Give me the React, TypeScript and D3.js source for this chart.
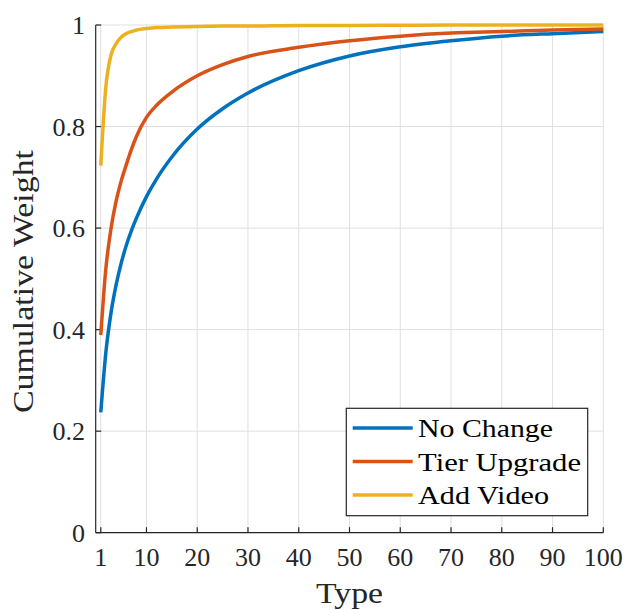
import React from "react";
import * as d3 from "d3";

const types = [1, 2, 3, 4, 5, 6, 7, 8, 10, 12, 15, 20, 25, 30, 40, 50, 60, 70, 80, 90, 100];
const noChange = [0.237, 0.355, 0.432, 0.487, 0.53, 0.565, 0.594, 0.619, 0.662, 0.697, 0.74, 0.795, 0.835, 0.866, 0.910, 0.939, 0.957, 0.969, 0.978, 0.983, 0.987];
const tierUpgrade = [0.389, 0.52, 0.598, 0.652, 0.692, 0.724, 0.754, 0.78, 0.818, 0.842, 0.868, 0.90, 0.922, 0.938, 0.956, 0.969, 0.978, 0.984, 0.987, 0.990, 0.992];
const addVideo = [0.723, 0.878, 0.94, 0.963, 0.976, 0.983, 0.987, 0.99, 0.993, 0.995, 0.996, 0.997, 0.998, 0.998, 0.999, 0.999, 0.9995, 1, 1, 1, 1];

const seriesNames = ["No Change", "Tier Upgrade", "Add Video"];
const seriesColors = ["#0072BD", "#D95319", "#EDB120"];
const xTicks = [1, 10, 20, 30, 40, 50, 60, 70, 80, 90, 100];
const yTicks = [0, 0.2, 0.4, 0.6, 0.8, 1];
const legendWidths = [135, 163, 131];

const W = 627, H = 610;
const L = 95.7, R = 603.3, T = 25, B = 532.7;
const FONT = "'Times New Roman', 'Liberation Serif', Times, serif";
const AX = "#262626";

export default function App() {
  const x = d3.scaleLinear().domain([0, 100]).range([L, R]);
  const y = d3.scaleLinear().domain([0, 1]).range([B, T]);
  const line = d3
    .line<[number, number]>()
    .x((d) => x(d[0]))
    .y((d) => y(d[1]))
    .curve(d3.curveMonotoneX);
  const allSeries = [noChange, tierUpgrade, addVideo];

  const lgX = 346.3, lgY = 408.3, lgW = 241.4, lgH = 107.4;
  const rowY = [428, 461.5, 495];
  const ts = { fontFamily: FONT } as React.CSSProperties;

  return (
    <svg width={W} height={H} style={{ position: "absolute", left: 0, top: 0, background: "#fff" }}>
      <rect x={0} y={0} width={W} height={H} fill="#fff" />
      {xTicks.map((t) => (
        <line key={"gx" + t} x1={x(t)} x2={x(t)} y1={T} y2={B} stroke="#dfdfdf" strokeWidth={1} />
      ))}
      {yTicks.map((t) => (
        <line key={"gy" + t} x1={L} x2={R} y1={y(t)} y2={y(t)} stroke="#dfdfdf" strokeWidth={1} />
      ))}
      <line x1={L} x2={R} y1={B} y2={B} stroke={AX} strokeWidth={1.2} />
      <line x1={L} x2={L} y1={T} y2={B} stroke={AX} strokeWidth={1.2} />
      {xTicks.map((t) => (
        <g key={"tx" + t}>
          <line x1={x(t)} x2={x(t)} y1={B} y2={B - 5.5} stroke={AX} strokeWidth={1.2} />
          <text x={x(t)} y={565.5} textAnchor="middle" fontSize={26} fill={AX} style={ts}>
            {t}
          </text>
        </g>
      ))}
      {yTicks.map((t) => (
        <g key={"ty" + t}>
          <line x1={L} x2={L + 5.5} y1={y(t)} y2={y(t)} stroke={AX} strokeWidth={1.2} />
          <text x={85} y={y(t) + 9} textAnchor="end" fontSize={26} fill={AX} style={ts}>
            {t === 0 || t === 1 ? String(t) : t.toFixed(1)}
          </text>
        </g>
      ))}
      {allSeries.map((s, i) => (
        <path
          key={"s" + i}
          d={line(types.map((t, j) => [t, s[j]] as [number, number])) || ""}
          fill="none"
          stroke={seriesColors[i]}
          strokeWidth={3.5}
          strokeLinejoin="round"
        />
      ))}
      <text x={(L + R) / 2} y={603} textAnchor="middle" fontSize={29} fill={AX} style={ts} textLength={67} lengthAdjust="spacingAndGlyphs">
        Type
      </text>
      <text
        transform={`translate(33, ${(150 + 413) / 2}) rotate(-90)`}
        textAnchor="middle"
        fontSize={29}
        fill={AX}
        style={ts}
        textLength={263}
        lengthAdjust="spacingAndGlyphs"
      >
        Cumulative Weight
      </text>
      <rect x={lgX} y={lgY} width={lgW} height={lgH} fill="#fff" stroke={AX} strokeWidth={1.2} />
      {seriesNames.map((n, i) => (
        <g key={"lg" + i}>
          <line x1={352.7} x2={412.7} y1={rowY[i]} y2={rowY[i]} stroke={seriesColors[i]} strokeWidth={3.5} />
          <text x={418} y={rowY[i] + 9} fontSize={26} fill="#000" style={ts} textLength={legendWidths[i]} lengthAdjust="spacingAndGlyphs">
            {n}
          </text>
        </g>
      ))}
    </svg>
  );
}
